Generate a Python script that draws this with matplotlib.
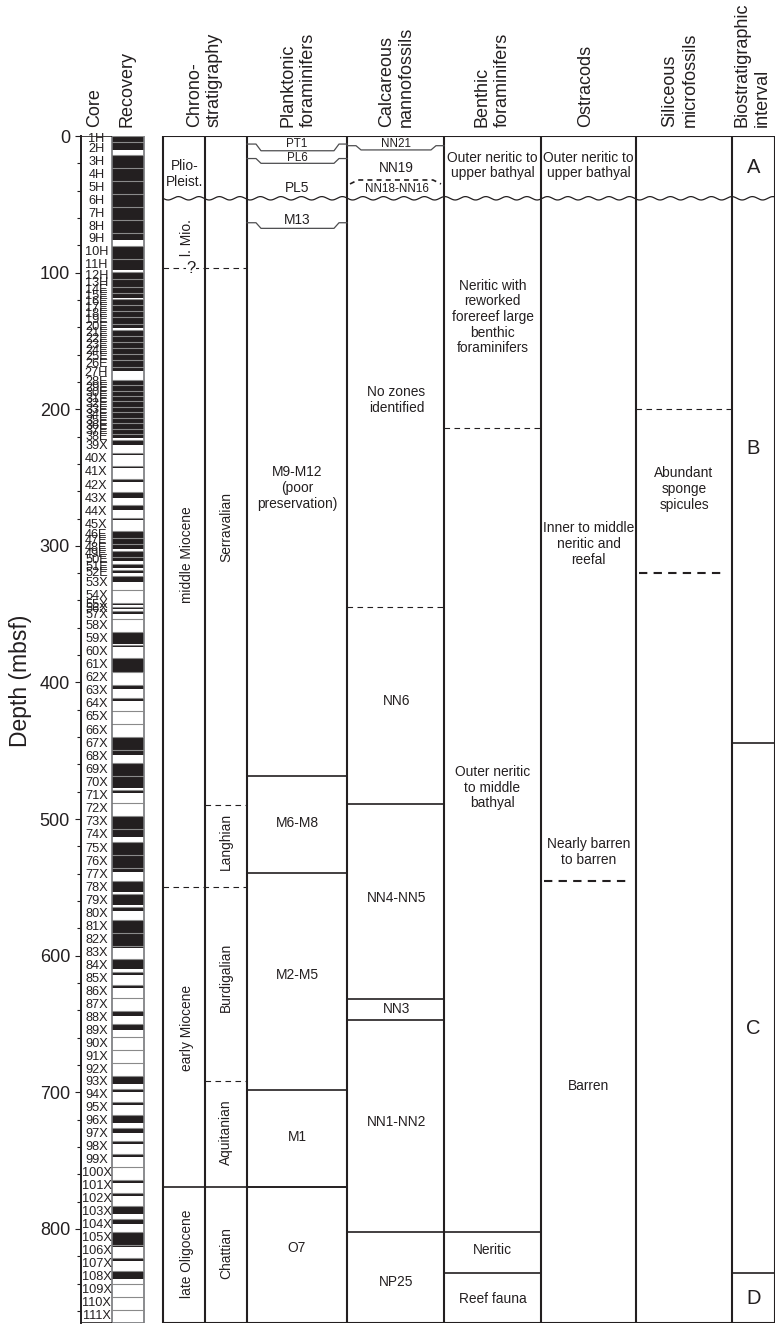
import numpy as np
import matplotlib
matplotlib.use("Agg")
from matplotlib import pyplot as plt
from matplotlib.patches import Rectangle

plt.rcParams['font.family'] = ['Liberation Sans', 'DejaVu Sans']

INK = '#231f20'
GREY = '#8a8a8a'
DEPTH_MAX = 868.9

# ---- core recovery (mbsf) ----
core_names = ['1H', '2H', '3H', '4H', '5H', '6H', '7H', '8H', '9H', '10H', '11H', '12H', '13H',
              '14E', '15E', '16E', '17E', '18E', '19E', '20E', '21E', '22E', '23E', '24E', '25E', '26E',
              '27H', '28E', '29E', '30E', '31E', '32E', '33E', '34E', '35E', '36E', '37E', '38E',
              '39X', '40X', '41X', '42X', '43X', '44X', '45X',
              '46E', '47E', '48E', '49E', '50E', '51E', '52E',
              '53X', '54X', '55X', '56X', '57X', '58X'] + [f'{n}X' for n in range(59, 112)]
core_top = [0.0, 4.5, 14.0, 23.5, 33.0, 42.5, 52.0, 61.5, 71.0, 80.5, 90.0, 99.5, 105.0,
            110.3, 114.8, 119.3, 123.8, 128.3, 132.8, 137.3, 141.8, 146.3, 150.8, 155.3, 159.8, 164.3,
            168.8, 178.3, 182.3, 186.3, 190.3, 194.3, 198.3, 202.3, 206.3, 210.3, 214.3, 218.3,
            222.3, 231.9, 241.5, 251.1, 260.7, 270.3, 279.9,
            289.5, 294.2, 298.9, 303.6, 308.3, 313.0, 317.7,
            322.4, 332.0, 341.6, 345.1, 347.6, 353.6,
            363.2, 372.8, 382.4, 392.0, 401.6, 411.2, 420.8, 430.4, 440.0, 449.6,
            459.2, 468.8, 478.4, 488.0, 497.6, 507.2, 516.8, 526.4, 536.0,
            545.6, 555.1, 564.6, 574.1, 583.6, 593.1, 602.6, 612.1, 621.6, 631.1,
            640.6, 650.1, 659.6, 669.1, 678.6, 688.1, 697.6, 707.1, 716.6, 726.1,
            735.6, 745.1, 754.6, 764.1, 773.6, 783.1, 792.6, 802.1, 811.6, 821.1,
            830.6, 840.1, 849.6, 859.1]
core_bottom_last = 868.6
core_recovered = [4.5, 5.7, 9.5, 9.5, 9.5, 9.5, 9.5, 9.5, 5.4, 9.5, 8.3, 5.5, 5.3,
                  4.5, 4.0, 4.5, 4.5, 4.5, 4.5, 3.3, 4.5, 4.5, 4.5, 4.5, 4.5, 4.5,
                  3.0, 4.0, 4.0, 4.0, 4.0, 4.0, 4.0, 4.0, 4.0, 4.0, 4.0, 2.5,
                  4.0, 1.5, 1.5, 2.0, 4.0, 3.3, 1.5,
                  4.7, 4.7, 3.5, 4.7, 2.5, 3.0, 2.0,
                  4.0, 1.0, 1.5, 1.0, 2.0, 1.0,
                  9.0, 1.2, 9.6, 0.3, 3.4, 2.4, 1.2, 1.0, 9.6, 3.6,
                  9.6, 8.5, 2.4, 1.0, 9.6, 6.0, 9.6, 9.6, 2.4,
                  7.5, 7.8, 2.4, 9.5, 9.0, 1.2, 7.0, 2.0, 2.0, 0.5,
                  3.6, 4.0, 0.0, 0.0, 0.0, 6.0, 2.5, 2.5, 6.0, 3.5,
                  2.0, 2.4, 0.8, 2.4, 2.4, 6.0, 3.6, 9.5, 1.5, 2.4,
                  6.0, 0.5, 0.0, 0.0]

# ---- stratigraphic boundaries (mbsf) ----
unconformity = 45.6
chrono_dashed = [96.9, 549.5]
chrono_solid = [769.0]
stage_dashed = [489.8, 691.8]
plank_bounds = [468.5, 539.8, 698.0, 769.0]
nanno_bounds = [489.0, 631.4, 646.9, 802.0]
nanno_dashed = [344.5]
benthic_bounds = [802.0, 832.0]
benthic_dashed = [213.8]
ostracod_dashed = [545.5]
siliceous_dashed_thin = [200.0]
siliceous_dashed_thick = [320.0]
interval_bounds = [444.0, 832.0]

# bracket-style zone tops: (end depth, middle depth)
plank_brackets = [(5.9, 10.8), (16.5, 20.0), (63.5, 67.6)]
nanno_brackets = [(7.1, 10.2)]
nanno_dashed_bracket = (35.1, 32.2)

# ---- text labels: (depth, text) ----
chrono_labels = [(74.7, 'l. Mio.'), (306.6, 'middle Miocene'), (653.0, 'early Miocene'),
                 (818.0, 'late Oligocene')]
stage_labels = [(286.0, 'Serravalian'), (516.6, 'Langhian'), (616.0, 'Burdigalian'),
                (729.0, 'Aquitanian'), (817.7, 'Chattian')]
plank_labels = [(38.3, 'PL5'), (61.5, 'M13'), (257.7, 'M9-M12\n(poor\npreservation)'),
                (503.0, 'M6-M8'), (614.0, 'M2-M5'), (732.6, 'M1'), (814.0, 'O7')]
plank_small = [(5.5, 'PT1'), (15.8, 'PL6')]
nanno_labels = [(23.4, 'NN19'), (193.3, 'No zones\nidentified'), (413.6, 'NN6'),
                (558.0, 'NN4-NN5'), (639.0, 'NN3'), (722.0, 'NN1-NN2'), (839.0, 'NP25')]
nanno_small = [(5.5, 'NN21'), (39.0, 'NN18-NN16')]
benthic_labels = [(21.6, 'Outer neritic to\nupper bathyal'),
                  (132.5, 'Neritic with\nreworked\nforereef large\nbenthic\nforaminifers'),
                  (477.0, 'Outer neritic\nto middle\nbathyal'), (815.5, 'Neritic'), (851.0, 'Reef fauna')]
ostracod_labels = [(21.6, 'Outer neritic to\nupper bathyal'), (298.7, 'Inner to middle\nneritic and\nreefal'),
                   (524.0, 'Nearly barren\nto barren'), (695.5, 'Barren')]
siliceous_labels = [(258.4, 'Abundant\nsponge\nspicules')]
interval_labels = [(23.4, 'A'), (229.0, 'B'), (653.0, 'C'), (850.6, 'D')]

headers = ['Core', 'Recovery', 'Chrono-\nstratigraphy', 'Planktonic\nforaminifers',
           'Calcareous\nnannofossils', 'Benthic\nforaminifers', 'Ostracods',
           'Siliceous\nmicrofossils', 'Biostratigraphic\ninterval']

# ---- layout (pixels) ----
W, H = 776, 1326
TOP, BOT = 136, 1323
edges = [163, 205, 247, 347, 444, 541, 636, 732, 775]
header_x = [95, 127, 204, 298, 396, 492, 586, 680, 752]
REC_L, REC_R = 112.5, 144.5

fig = plt.figure(figsize=(W / 100, H / 100), dpi=100)
ax = fig.add_axes([81 / W, (H - BOT) / H, (775 - 81) / W, (BOT - TOP) / H])
ax.set_xlim(81, 775)
ax.set_ylim(DEPTH_MAX, 0)
for s in ['top', 'right', 'bottom']:
    ax.spines[s].set_visible(False)
ax.spines['left'].set_linewidth(1.4)
ax.spines['left'].set_color(INK)
ax.set_xticks([])
ax.set_yticks(np.arange(0, 801, 100))
ax.set_yticks(np.arange(0, 861, 20), minor=True)
ax.tick_params(axis='y', which='major', length=4.3, width=0.8, pad=3.6, labelsize=13, colors=INK)
ax.tick_params(axis='y', which='minor', length=2.9, width=0.8, colors=INK)
ax.set_ylabel('Depth (mbsf)', fontsize=16.5, color=INK)
ax.yaxis.set_label_coords(-0.071, 0.541)

# core column
bottoms = core_top[1:] + [core_bottom_last]
ax.bar([(REC_L + REC_R) / 2] * len(core_top), core_recovered, width=REC_R - REC_L,
       bottom=core_top, color=INK, linewidth=0)
ax.hlines(core_top + [core_bottom_last], REC_L, REC_R, color=GREY, lw=0.8)
ax.add_patch(Rectangle((REC_L, 0), REC_R - REC_L, DEPTH_MAX, fill=False, ec='#77787b', lw=1.2))
ax.hlines([0, DEPTH_MAX], 81, REC_L, color=INK, lw=1.2)
for name, t, b in zip(core_names, core_top, bottoms):
    ax.text(96.5, (t + b) / 2, name, ha='center', va='center', fontsize=9.2, color=INK)

# table frame and columns
ax.add_patch(Rectangle((edges[0], 0), edges[-1] - edges[0], DEPTH_MAX, fill=False, ec=INK, lw=1.5))
ax.vlines(edges[1:-1], 0, DEPTH_MAX, color=INK, lw=1.5)

xw = np.linspace(edges[0], edges[-1], 800)
ax.plot(xw, unconformity + 1.25 * np.sin(2 * np.pi * (xw - edges[0]) / 20.5), color=INK, lw=0.9)

thin = dict(color=INK, lw=0.8, linestyle=(0, (5, 4)))
thick = dict(color=INK, lw=1.5, linestyle=(0, (4, 3)))
ax.hlines(chrono_dashed, edges[0], edges[2], **thin)
ax.hlines(chrono_solid, edges[0], edges[3], color=INK, lw=1.2)
ax.hlines(stage_dashed, edges[1], edges[2], **thin)
ax.hlines(plank_bounds, edges[2], edges[3], color=INK, lw=1.2)
ax.hlines(nanno_bounds, edges[3], edges[4], color=INK, lw=1.2)
ax.hlines(nanno_dashed, edges[3], edges[4], **thin)
ax.hlines(benthic_bounds, edges[4], edges[5], color=INK, lw=1.2)
ax.hlines(benthic_dashed, edges[4], edges[5], **thin)
ax.hlines(ostracod_dashed, edges[5] + 3, edges[6] - 6, **thick)
ax.hlines(siliceous_dashed_thin, edges[6], edges[7], **thin)
ax.hlines(siliceous_dashed_thick, edges[6] + 3, edges[7] - 6, **thick)
ax.hlines(interval_bounds, edges[7], edges[8], color=INK, lw=1.2)


def bracket(x0, x1, d_end, d_mid, **kw):
    xs = [x0, x0 + 9, x0 + 14, x1 - 13, x1 - 8, x1]
    ys = [d_end, d_end, d_mid, d_mid, d_end, d_end]
    ax.plot(xs, ys, **kw)


for e, m in plank_brackets:
    bracket(edges[2], edges[3], e, m, color='#4d4d4f', lw=0.9)
for e, m in nanno_brackets:
    bracket(edges[3], edges[4], e, m, color='#4d4d4f', lw=0.9)
e, m = nanno_dashed_bracket
ax.plot([edges[3] + 3, edges[3] + 11, edges[4] - 11, edges[4] - 3], [e, m, m, e],
        color=INK, lw=1.2, linestyle=(0, (3, 2.5)))

# texts
body = dict(ha='center', va='center', fontsize=9.9, color=INK, linespacing=1.15)
small = dict(ha='center', va='center', fontsize=8.4, color=INK)
ax.text(185, 27.8, 'Plio-\nPleist.', **body)
ax.text(191, chrono_dashed[0], '?', fontsize=12, ha='center', va='center', color=INK,
        bbox=dict(fc='white', ec='none', pad=0.5))
for d, t in chrono_labels:
    ax.text(187, d, t, rotation=90, **body)
for d, t in stage_labels:
    ax.text(226, d, t, rotation=90, **body)
pc = (edges[2] + edges[3]) / 2
for d, t in plank_labels:
    ax.text(pc, d, t, **body)
for d, t in plank_small:
    ax.text(pc, d, t, **small)
nc = (edges[3] + edges[4]) / 2 + 1
for d, t in nanno_labels:
    ax.text(nc, d, t, **body)
for d, t in nanno_small:
    ax.text(nc, d, t, **small)
for d, t in benthic_labels:
    ax.text((edges[4] + edges[5]) / 2, d, t, **body)
for d, t in ostracod_labels:
    ax.text((edges[5] + edges[6]) / 2, d, t, **body)
for d, t in siliceous_labels:
    ax.text((edges[6] + edges[7]) / 2, d, t, **body)
for d, t in interval_labels:
    ax.text((edges[7] + edges[8]) / 2, d, t, ha='center', va='center', fontsize=14.5, color=INK)

for x, t in zip(header_x, headers):
    fig.text(x / W, 1 - 127 / H, t, rotation=90, ha='center', va='bottom',
             fontsize=13, color=INK, multialignment='left', linespacing=1.2)

fig.savefig('out.png', dpi=100)
